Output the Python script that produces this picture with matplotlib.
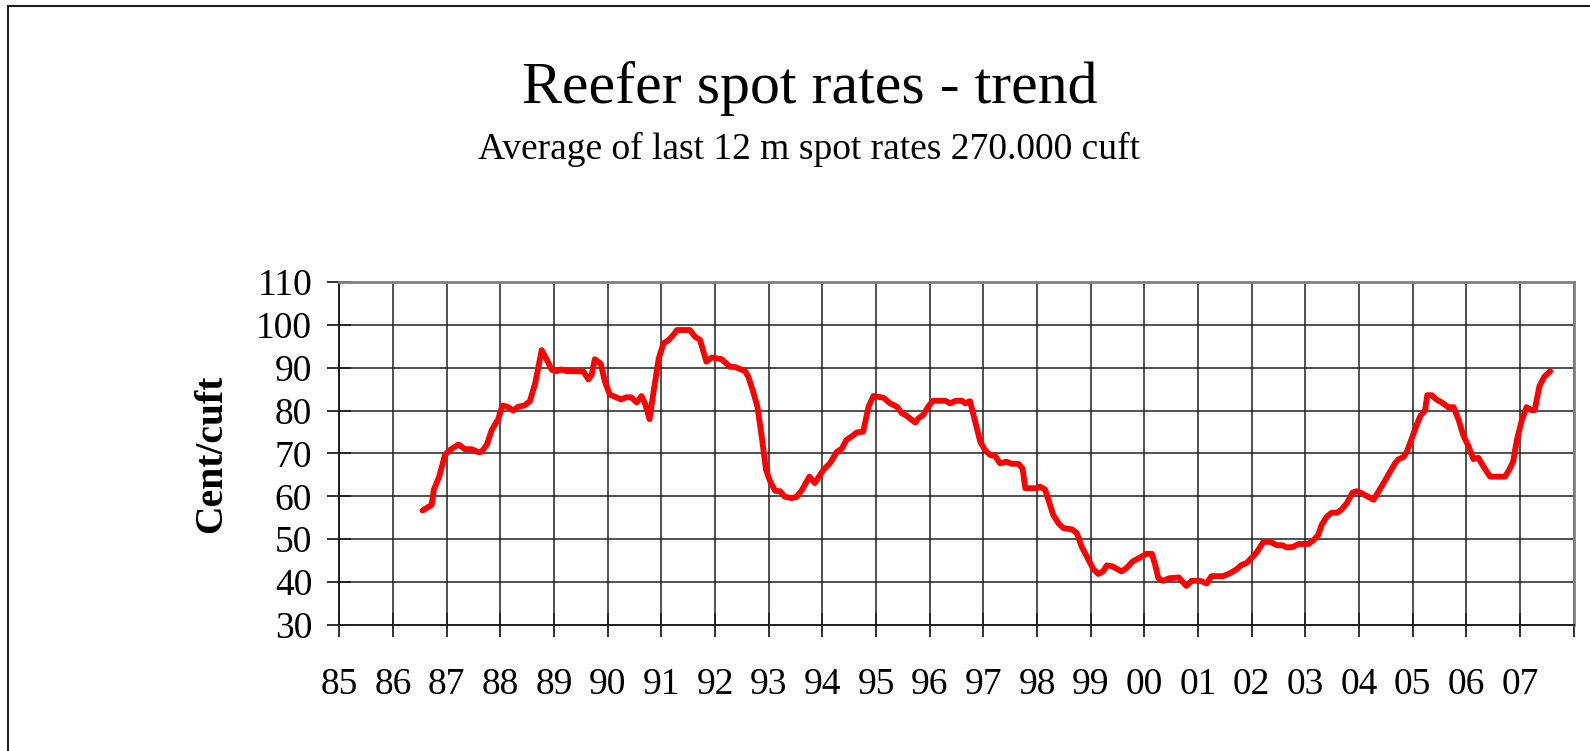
import matplotlib
matplotlib.use("Agg")
import matplotlib.pyplot as plt
from matplotlib.patches import Rectangle

plt.rcParams['font.family'] = ['Liberation Serif', 'DejaVu Serif']

# 12 month moving average, decimal years
dates = [
    1986.55, 1986.72, 1986.76, 1986.86, 1986.97, 1987.06, 1987.22, 1987.34, 1987.47, 1987.59,
    1987.65, 1987.75, 1987.84, 1987.96, 1988.04, 1988.15, 1988.24, 1988.33, 1988.45, 1988.55,
    1988.65, 1988.77, 1988.86, 1988.96, 1989.05, 1989.14, 1989.24, 1989.36, 1989.55, 1989.64,
    1989.70, 1989.76, 1989.87, 1989.95, 1990.04, 1990.16, 1990.25, 1990.34, 1990.44, 1990.54,
    1990.63, 1990.70, 1990.78, 1990.85, 1990.95, 1991.04, 1991.13, 1991.22, 1991.29, 1991.53,
    1991.63, 1991.72, 1991.84, 1991.94, 1992.12, 1992.28, 1992.37, 1992.56, 1992.62, 1992.71,
    1992.79, 1992.87, 1992.95, 1993.03, 1993.12, 1993.21, 1993.30, 1993.43, 1993.52, 1993.62,
    1993.76, 1993.86, 1994.02, 1994.14, 1994.27, 1994.36, 1994.45, 1994.55, 1994.64, 1994.76,
    1994.86, 1994.95, 1995.14, 1995.26, 1995.39, 1995.48, 1995.57, 1995.73, 1995.79, 1995.88,
    1995.97, 1996.06, 1996.29, 1996.38, 1996.48, 1996.60, 1996.66, 1996.75, 1996.84, 1996.94,
    1997.03, 1997.12, 1997.22, 1997.31, 1997.43, 1997.52, 1997.65, 1997.73, 1997.78, 1997.99,
    1998.05, 1998.15, 1998.21, 1998.30, 1998.40, 1998.49, 1998.65, 1998.74, 1998.83, 1998.96,
    1999.05, 1999.14, 1999.23, 1999.30, 1999.40, 1999.57, 1999.66, 1999.78, 1999.90, 2000.04,
    2000.14, 2000.20, 2000.26, 2000.35, 2000.46, 2000.64, 2000.78, 2000.88, 2001.04, 2001.16,
    2001.25, 2001.47, 2001.60, 2001.72, 2001.81, 2001.91, 2002.00, 2002.09, 2002.22, 2002.34,
    2002.47, 2002.57, 2002.65, 2002.77, 2002.87, 2003.06, 2003.15, 2003.24, 2003.30, 2003.40,
    2003.49, 2003.59, 2003.68, 2003.77, 2003.88, 2003.96, 2004.05, 2004.17, 2004.27, 2004.36,
    2004.48, 2004.58, 2004.67, 2004.73, 2004.83, 2004.89, 2004.98, 2005.07, 2005.14, 2005.23,
    2005.27, 2005.35, 2005.45, 2005.54, 2005.66, 2005.76, 2005.85, 2005.94, 2006.04, 2006.13,
    2006.22, 2006.32, 2006.44, 2006.72, 2006.80, 2006.87, 2006.94, 2007.03, 2007.12, 2007.21,
    2007.27, 2007.36, 2007.45, 2007.56,
]
rates = [
    56.7, 58.0, 61.5, 64.6, 69.7, 70.8, 72.1, 71.0, 71.0, 70.3,
    70.4, 72.1, 75.5, 78.0, 81.2, 80.8, 80.0, 80.9, 81.2, 82.2,
    86.4, 94.1, 92.0, 89.5, 89.2, 89.6, 89.2, 89.2, 89.1, 87.3,
    88.3, 92.0, 90.9, 86.7, 83.7, 83.1, 82.6, 83.1, 83.1, 81.9,
    83.4, 81.5, 78.0, 84.0, 92.1, 95.7, 96.4, 97.6, 98.8, 98.8,
    97.2, 96.5, 91.4, 92.4, 92.0, 90.2, 90.2, 89.2, 87.9, 84.4,
    80.9, 73.9, 66.2, 63.4, 61.3, 61.2, 59.9, 59.6, 59.9, 61.5,
    64.6, 63.1, 66.2, 67.7, 70.4, 71.1, 73.2, 74.0, 74.9, 75.1,
    80.9, 83.4, 83.0, 81.7, 80.9, 79.4, 78.8, 77.2, 78.2, 79.0,
    80.9, 82.3, 82.3, 81.7, 82.3, 82.3, 81.7, 82.2, 77.8, 72.8,
    70.8, 69.7, 69.4, 67.7, 68.1, 67.6, 67.6, 66.5, 61.9, 61.9,
    62.3, 61.6, 59.2, 55.7, 53.7, 52.6, 52.3, 51.4, 48.3, 45.2,
    43.0, 41.9, 42.5, 43.9, 43.7, 42.5, 43.2, 44.8, 45.6, 46.6,
    46.6, 44.0, 40.9, 40.3, 40.9, 41.1, 39.1, 40.3, 40.3, 39.7,
    41.4, 41.4, 42.1, 43.0, 44.0, 44.5, 45.7, 46.9, 49.4, 49.4,
    48.6, 48.6, 48.1, 48.2, 48.9, 48.9, 49.8, 51.0, 53.3, 55.3,
    56.2, 56.2, 57.0, 58.4, 60.9, 61.2, 60.7, 59.9, 59.2, 61.1,
    63.6, 65.8, 67.7, 68.6, 69.2, 70.4, 73.5, 76.6, 78.7, 80.1,
    83.6, 83.6, 82.5, 81.9, 80.8, 80.8, 78.0, 74.3, 71.6, 68.7,
    69.0, 66.9, 64.6, 64.6, 66.3, 68.1, 73.2, 77.7, 80.8, 80.1,
    80.1, 85.7, 87.9, 89.2,
]

years = list(range(1985, 2009))
year_labels = ['%02d' % (y % 100) for y in range(1985, 2008)] + ['']
y_ticks = list(range(30, 111, 10))

fig = plt.figure(figsize=(15.9, 7.51), dpi=100)
ax = fig.add_axes([0.2134, 0.1678, 0.7764, 0.4567])

ax.plot(dates, rates, color='#ff0000', lw=4.2, solid_joinstyle='round', solid_capstyle='round')

ax.set_xlim(1985, 2008)
ax.set_ylim(30, 110)
ax.set_xticks(years)
ax.set_xticklabels(year_labels)
ax.set_yticks(y_ticks)
ax.grid(True, color='#202020', lw=1.1)
ax.set_axisbelow(True)

ax.tick_params(axis='both', direction='inout', length=17, width=1.3, color='#202020')
ax.tick_params(axis='x', labelsize=27, pad=22)
ax.tick_params(axis='y', labelsize=27, pad=11)

for side in ['top', 'right']:
    ax.spines[side].set_color('#808080')
    ax.spines[side].set_linewidth(2)
for side in ['left', 'bottom']:
    ax.spines[side].set_color('#202020')
    ax.spines[side].set_linewidth(1.4)

ax.set_ylabel('Cent/cuft', fontsize=28.5, fontweight='bold', labelpad=19)

fig.text(0.509, 1 - 103 / 751, 'Reefer spot rates - trend', fontsize=43,
         ha='center', va='baseline')
fig.text(0.509, 1 - 159 / 751, 'Average of last 12 m spot rates 270.000 cuft', fontsize=27,
         ha='center', va='baseline')

# outer chart frame (runs off the right and bottom edges)
fig.add_artist(Rectangle((8 / 1590, -0.05), 1.1, 1.05 - 6 / 751, transform=fig.transFigure,
                         fill=False, edgecolor='#202020', lw=1.5, clip_on=False))

fig.savefig('out.png', dpi=100)
